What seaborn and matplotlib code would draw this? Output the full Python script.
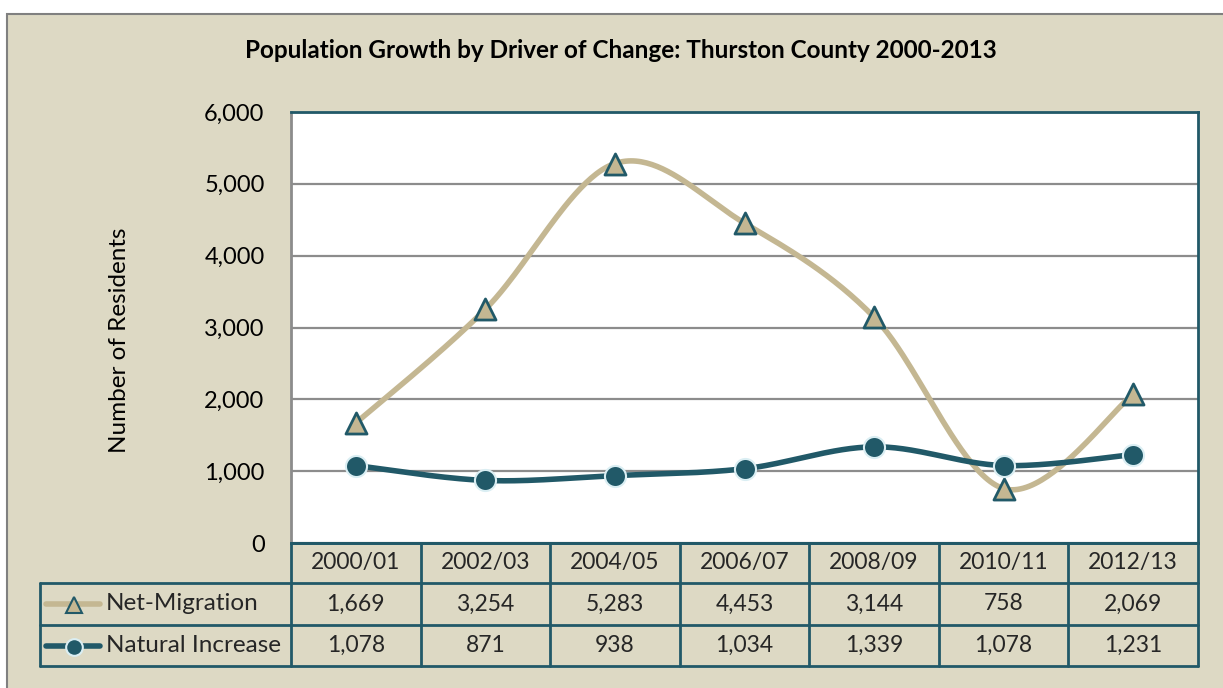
import numpy as np
import matplotlib
matplotlib.use("Agg")
import matplotlib.pyplot as plt
import seaborn as sns
from matplotlib.lines import Line2D
from matplotlib.patches import Rectangle

# ---- data ----
periods = ["2000/01", "2002/03", "2004/05", "2006/07", "2008/09", "2010/11", "2012/13"]
net_migration = [1669, 3254, 5283, 4453, 3144, 758, 2069]
natural_increase = [1078, 871, 938, 1034, 1339, 1078, 1231]
series_names = ["Net-Migration", "Natural Increase"]
y_ticks = [0, 1000, 2000, 3000, 4000, 5000, 6000]
title = "Population Growth by Driver of Change: Thurston County 2000-2013"
y_label = "Number of Residents"

# ---- style ----
BEIGE = "#DDD9C4"
TAN = "#C4B792"
TEAL = "#215968"
LIGHT = "#DAEEF3"
GRID = "#8C8C8C"

sns.set_theme(style="white")
plt.rcParams['font.family'] = ['Lato', 'DejaVu Sans']

W, H = 1223, 688
fig = plt.figure(figsize=(W / 100, H / 100), dpi=100, facecolor="white")


def fx(x):
    return x / W


def fy(y):
    return 1 - y / H


bg = Rectangle((fx(7), -0.01), 1.0, fy(14) + 0.01, transform=fig.transFigure,
               facecolor=BEIGE, edgecolor="#808080", lw=1.5, zorder=-10)
fig.patches.append(bg)

L, R, T, B = 291, 1198, 112, 543
ax = fig.add_axes([fx(L), fy(B), (R - L) / W, (B - T) / H])
ax.set_facecolor("white")


def smooth(y, n=50):
    x = np.arange(len(y), dtype=float)
    P = np.column_stack([x, np.asarray(y, float)])
    Pe = np.vstack([P[0], P, P[-1]])
    pts = []
    t = np.linspace(0, 1, n)[:, None]
    for i in range(len(P) - 1):
        p0, p3 = P[i], P[i + 1]
        c1 = p0 + (Pe[i + 2] - Pe[i]) / 6
        c2 = p3 - (Pe[i + 3] - Pe[i + 1]) / 6
        seg = (1 - t) ** 3 * p0 + 3 * (1 - t) ** 2 * t * c1 + 3 * (1 - t) * t ** 2 * c2 + t ** 3 * p3
        pts.append(seg if i == 0 else seg[1:])
    return np.vstack(pts)


xs = np.arange(len(periods))
c1 = smooth(net_migration)
c2 = smooth(natural_increase)
sns.lineplot(x=c1[:, 0], y=c1[:, 1], sort=False, estimator=None, ax=ax, color=TAN, lw=4, zorder=3)
sns.scatterplot(x=xs, y=net_migration, marker="^", s=230, color=TAN, edgecolor=TEAL, linewidth=2, ax=ax, zorder=4)
sns.lineplot(x=c2[:, 0], y=c2[:, 1], sort=False, estimator=None, ax=ax, color=TEAL, lw=4, zorder=5)
sns.scatterplot(x=xs, y=natural_increase, marker="o", s=230, color=TEAL, edgecolor=LIGHT, linewidth=1.5, ax=ax, zorder=6)

ax.set_xlim(-0.5, len(periods) - 0.5)
ax.set_ylim(0, 6000)
ax.set_yticks(y_ticks)
ax.set_yticklabels([f"{v:,}" for v in y_ticks], fontsize=17, color="black")
ax.set_xticks([])
ax.tick_params(axis="y", length=0, pad=19)
ax.yaxis.grid(True, color=GRID, lw=1.6)
ax.set_axisbelow(True)
ax.set_xlabel("")
ax.set_ylabel("")
for side, col in [("left", GRID), ("top", TEAL), ("right", TEAL), ("bottom", TEAL)]:
    ax.spines[side].set_color(col)
    ax.spines[side].set_linewidth(2)

fig.text(fx(621), fy(50), title, ha="center", va="center", fontsize=17.5, fontweight="bold", color="black")
fig.text(fx(120), fy(340), y_label, ha="center", va="center", rotation=90, fontsize=17.5, color="black")

# ---- data table ----
colw = (R - L) / len(periods)
rows = [543, 583, 625, 666]
LEG = 40


def hline(x0, x1, y):
    fig.add_artist(Line2D([fx(x0), fx(x1)], [fy(y), fy(y)], color=TEAL, lw=2, zorder=10))


def vline(x, y0, y1):
    fig.add_artist(Line2D([fx(x), fx(x)], [fy(y0), fy(y1)], color=TEAL, lw=2, zorder=10))


hline(L, R, rows[0])
hline(LEG, R, rows[1])
hline(LEG, R, rows[2])
hline(LEG, R, rows[3])
for k in range(len(periods) + 1):
    vline(L + k * colw, rows[0], rows[3])
vline(LEG, rows[1], rows[3])

for k, p in enumerate(periods):
    cx = L + (k + 0.5) * colw
    fig.text(fx(cx), fy((rows[0] + rows[1]) / 2), p, ha="center", va="center", fontsize=16.5)
    fig.text(fx(cx), fy((rows[1] + rows[2]) / 2), f"{net_migration[k]:,}", ha="center", va="center", fontsize=16.5)
    fig.text(fx(cx), fy((rows[2] + rows[3]) / 2), f"{natural_increase[k]:,}", ha="center", va="center", fontsize=16.5)

for r, (name, col, mk, mfc, mec) in enumerate([
        (series_names[0], TAN, "^", TAN, TEAL),
        (series_names[1], TEAL, "o", TEAL, LIGHT)]):
    yc = (rows[1 + r] + rows[2 + r]) / 2
    fig.add_artist(Line2D([fx(46), fx(100)], [fy(yc), fy(yc)], color=col, lw=4, zorder=11, solid_capstyle="round"))
    fig.add_artist(Line2D([fx(74)], [fy(yc + 1)], marker=mk, markersize=12, markerfacecolor=mfc,
                          markeredgecolor=mec, markeredgewidth=1.5, zorder=12))
    fig.text(fx(106), fy(yc), name, ha="left", va="center", fontsize=17.5)

fig.savefig("out.png", dpi=100, facecolor="white")
